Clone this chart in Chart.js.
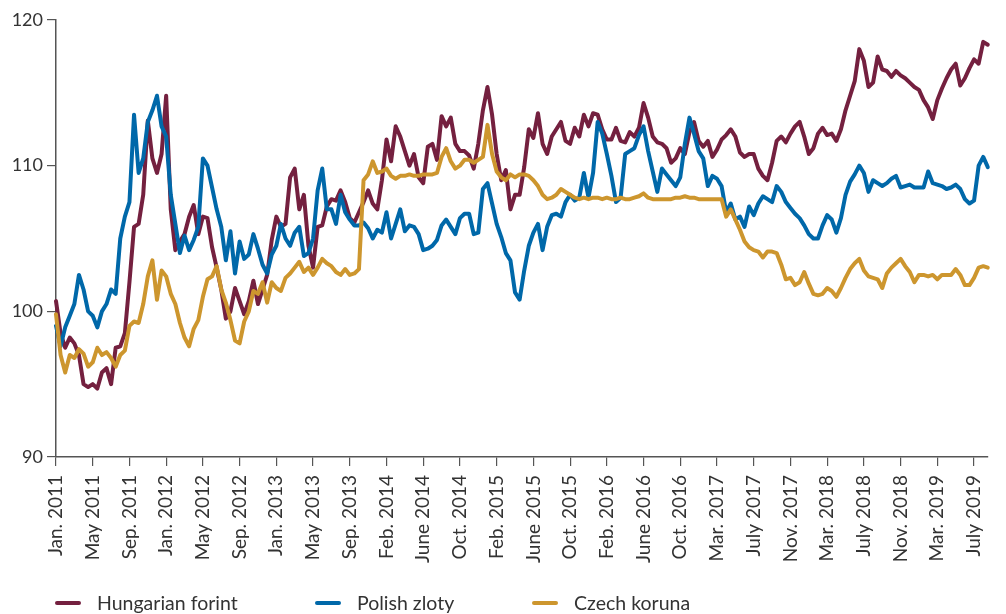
<!DOCTYPE html>
<html>
<head>
<meta charset="utf-8">
<script src="https://cdn.jsdelivr.net/npm/chart.js@4.4.1/dist/chart.umd.min.js"></script>
<style>
  html, body { margin: 0; padding: 0; background: #fff; }
  #wrap { position: relative; width: 1006px; height: 614px; overflow: hidden; }
  #legend { position: absolute; left: 55px; top: 591px; display: flex; font-family: Lato, sans-serif; font-size: 19.5px; color: #333; }
  .item { display: flex; align-items: center; }
  .swatch { width: 26px; height: 4px; border-radius: 2px; margin-right: 16px; }
</style>
</head>
<body>
<div id="wrap">
  <canvas id="fxChart" width="1006" height="614"></canvas>
  <div id="legend"></div>
</div>
<script>
// x axis labels, one every 8 data points
const tickLabels = ['Jan. 2011', 'May 2011', 'Sep. 2011', 'Jan. 2012', 'May 2012', 'Sep. 2012',
  'Jan. 2013', 'May 2013', 'Sep. 2013', 'Feb. 2014', 'June 2014', 'Oct. 2014', 'Feb. 2015',
  'June 2015', 'Oct. 2015', 'Feb. 2016', 'June 2016', 'Oct. 2016', 'Mar. 2017', 'July 2017',
  'Nov. 2017', 'Mar. 2018', 'July 2018', 'Nov. 2018', 'Mar. 2019', 'July 2019'];
const pointsPerTick = 8;

const hungarian = [
  100.7, 98.5, 97.5, 98.2, 97.8, 97.0, 95.0, 94.8, 95.0, 94.7,
  95.8, 96.1, 95.0, 97.5, 97.6, 98.5, 102.0, 105.8, 106.0, 108.0,
  113.1, 110.5, 109.5, 110.8, 114.8, 107.0, 104.2, 104.8, 105.3, 106.5,
  107.3, 105.3, 106.5, 106.4, 104.4, 103.0, 101.5, 99.5, 100.0, 101.6,
  100.7, 99.8, 100.7, 102.1, 100.5, 101.5, 102.5, 104.9, 106.5, 105.8,
  106.0, 109.2, 109.8, 107.0, 108.0, 104.5, 103.0, 105.8, 105.9, 107.2,
  107.7, 107.6, 108.3, 107.5, 106.4, 106.1, 106.8, 107.5, 108.3, 107.4,
  107.0, 109.0, 111.8, 110.3, 112.7, 112.0, 111.0, 110.0, 110.8, 109.2,
  108.8, 111.3, 111.5, 110.4, 113.4, 112.7, 113.3, 111.5, 111.0, 111.0,
  110.7, 109.8, 111.5, 113.8, 115.4, 113.5, 110.8, 109.0, 109.7, 107.0,
  108.0, 108.0, 109.9, 112.5, 111.9, 113.6, 111.5, 110.8, 112.0, 112.5,
  113.0, 111.7, 111.5, 112.6, 112.0, 113.5, 112.7, 113.6, 113.5, 112.5,
  111.8, 111.8, 112.6, 111.7, 111.6, 112.3, 112.0, 112.6, 114.3, 113.3,
  112.0, 111.6, 111.5, 111.2, 110.2, 110.5, 111.2, 110.8, 112.3, 113.0,
  111.7, 111.3, 111.7, 110.6, 111.1, 111.8, 112.1, 112.5, 112.0, 110.9,
  110.6, 110.8, 110.8, 109.8, 109.3, 109.0, 110.2, 111.7, 112.0, 111.6,
  112.2, 112.7, 113.0, 112.0, 110.8, 111.2, 112.2, 112.6, 112.1, 112.2,
  111.7, 112.5, 113.8, 114.8, 115.8, 118.0, 117.2, 115.4, 115.7, 117.5,
  116.6, 116.5, 116.1, 116.5, 116.2, 116.0, 115.7, 115.4, 115.2, 114.5,
  114.0, 113.2, 114.5, 115.3, 116.0, 116.6, 117.0, 115.5, 116.0, 116.7,
  117.3, 117.0, 118.5, 118.3
];

const polish = [
  99.0, 97.6, 98.9, 99.7, 100.5, 102.5, 101.5, 100.0, 99.7, 98.9,
  100.0, 100.5, 101.5, 101.2, 105.0, 106.5, 107.5, 113.5, 109.5, 110.5,
  113.0, 113.8, 114.8, 112.7, 112.0, 108.0, 106.0, 104.0, 105.2, 104.2,
  104.9, 105.8, 110.5, 110.0, 108.5, 107.0, 105.8, 103.5, 105.5, 102.6,
  104.8, 103.6, 103.9, 105.3, 104.3, 103.2, 102.6, 103.9, 104.5, 106.0,
  105.0, 104.5, 105.4, 105.8, 103.8, 104.0, 105.0, 108.3, 109.8, 107.0,
  107.0, 106.0, 108.0, 106.8, 106.3, 105.9, 105.9, 106.1, 105.7, 105.0,
  105.6, 105.4, 106.8, 105.0, 106.0, 107.0, 105.5, 105.9, 105.8, 105.3,
  104.2, 104.3, 104.5, 104.9, 105.9, 106.3, 105.8, 105.3, 106.4, 106.7,
  106.7, 105.3, 105.4, 108.4, 108.8, 107.4, 106.0, 105.1, 104.0, 103.5,
  101.3, 100.8, 102.8, 104.5, 105.4, 106.0, 104.2, 105.8, 106.6, 106.7,
  106.5, 107.5, 108.0, 107.6, 107.8, 109.5, 107.8, 109.5, 113.0, 112.2,
  110.8, 109.3, 107.5, 107.8, 110.8, 111.0, 111.2, 112.1, 112.7, 111.0,
  109.6, 108.2, 109.8, 109.4, 109.0, 108.6, 109.2, 111.5, 113.3, 112.2,
  111.0, 110.5, 108.6, 109.3, 109.1, 108.6, 106.8, 107.4, 106.3, 106.5,
  105.8, 107.2, 106.6, 107.4, 107.9, 107.7, 107.5, 108.6, 108.2, 107.5,
  107.1, 106.7, 106.4, 105.9, 105.3, 105.0, 105.0, 105.9, 106.6, 106.3,
  105.4, 106.4, 108.0, 108.9, 109.4, 110.0, 109.5, 108.2, 109.0, 108.8,
  108.6, 108.8, 109.1, 109.3, 108.5, 108.6, 108.7, 108.5, 108.5, 108.5,
  109.6, 108.8, 108.7, 108.6, 108.4, 108.5, 108.7, 108.4, 107.7, 107.4,
  107.6, 110.0, 110.6, 109.9
];

const czech = [
  99.8, 97.0, 95.8, 97.0, 96.8, 97.4, 97.1, 96.2, 96.5, 97.5,
  97.0, 97.2, 96.8, 96.2, 97.0, 97.3, 99.0, 99.3, 99.2, 100.5,
  102.4, 103.5, 100.8, 102.8, 102.4, 101.2, 100.5, 99.2, 98.2, 97.6,
  98.8, 99.4, 101.0, 102.2, 102.4, 103.1, 101.5, 100.6, 99.4, 98.0,
  97.8, 99.3, 100.0, 101.4, 101.2, 102.0, 100.6, 102.0, 101.6, 101.4,
  102.3, 102.6, 103.0, 103.4, 102.7, 103.0, 102.5, 103.0, 103.6, 103.3,
  103.1, 102.7, 102.5, 102.9, 102.5, 102.6, 102.9, 109.0, 109.4, 110.3,
  109.5, 109.6, 109.8, 109.3, 109.1, 109.3, 109.3, 109.4, 109.3, 109.3,
  109.4, 109.4, 109.4, 109.5, 110.6, 111.2, 110.3, 109.8, 110.0, 110.4,
  110.4, 110.2, 110.4, 110.6, 112.8, 110.8, 109.6, 109.2, 109.0, 109.4,
  109.2, 109.4, 109.4, 109.3, 109.0, 108.6, 108.0, 107.7, 107.8, 108.0,
  108.4, 108.2, 108.0, 107.8, 107.7, 107.8, 107.7, 107.8, 107.8, 107.7,
  107.8, 107.7, 107.7, 107.8, 107.7, 107.7, 107.8, 107.9, 108.1, 107.8,
  107.7, 107.7, 107.7, 107.7, 107.7, 107.8, 107.8, 107.9, 107.8, 107.8,
  107.7, 107.7, 107.7, 107.7, 107.7, 107.7, 106.5, 107.0, 106.3, 105.6,
  104.8, 104.4, 104.2, 104.1, 103.7, 104.1, 104.1, 104.0, 103.2, 102.2,
  102.3, 101.8, 102.0, 102.7, 101.9, 101.2, 101.1, 101.2, 101.6, 101.4,
  101.0, 101.6, 102.3, 102.9, 103.3, 103.6, 102.8, 102.4, 102.3, 102.2,
  101.6, 102.6, 103.0, 103.3, 103.6, 103.1, 102.7, 102.0, 102.5, 102.5,
  102.4, 102.5, 102.2, 102.5, 102.5, 102.5, 102.9, 102.5, 101.8, 101.8,
  102.3, 103.0, 103.1, 103.0
];

const seriesNames = ['Hungarian forint', 'Polish zloty', 'Czech koruna'];
const seriesColors = ['#74203f', '#0068a9', '#cd962e'];

const labels = hungarian.map((_, i) => i % pointsPerTick === 0 ? tickLabels[i / pointsPerTick] : '');

new Chart(document.getElementById('fxChart'), {
  type: 'line',
  data: {
    labels: labels,
    datasets: [hungarian, polish, czech].map((d, k) => ({
      label: seriesNames[k],
      data: d,
      borderColor: seriesColors[k],
      order: 3 - k  // koruna drawn on top
    }))
  },
  options: {
    responsive: false,
    animation: false,
    layout: { padding: { top: 20, right: 10, left: 0, bottom: 0 } },
    elements: {
      point: { radius: 0 },
      line: { borderWidth: 4, tension: 0, borderJoinStyle: 'round', borderCapStyle: 'round' }
    },
    plugins: { legend: { display: false }, tooltip: { enabled: false } },
    scales: {
      x: {
        grid: { drawOnChartArea: false, tickLength: 9, color: '#555', lineWidth: 1.2 },
        border: { color: '#555', width: 1.5 },
        ticks: {
          autoSkip: false, maxRotation: 90, minRotation: 90, padding: 9,
          color: '#333', font: { family: 'Lato, sans-serif', size: 19 },
          callback: (v, i) => i % pointsPerTick === 0 ? tickLabels[i / pointsPerTick] : null
        },
        afterFit: s => { s.height = 157; }
      },
      y: {
        min: 90, max: 120,
        grid: { drawOnChartArea: false, tickLength: 9, color: '#555', lineWidth: 1.2 },
        border: { color: '#555', width: 1.5 },
        ticks: { stepSize: 10, padding: 4, color: '#333', font: { family: 'Lato, sans-serif', size: 18 } },
        afterFit: s => { s.width = 56; }
      }
    }
  }
});

// legend under the axis labels
const legendWidths = [260, 217, 200];
const legend = document.getElementById('legend');
seriesNames.forEach((name, k) => {
  const item = document.createElement('div');
  item.className = 'item';
  item.style.width = legendWidths[k] + 'px';
  item.innerHTML = '<span class="swatch" style="background:' + seriesColors[k] + '"></span><span>' + name + '</span>';
  legend.appendChild(item);
});
</script>
</body>
</html>
